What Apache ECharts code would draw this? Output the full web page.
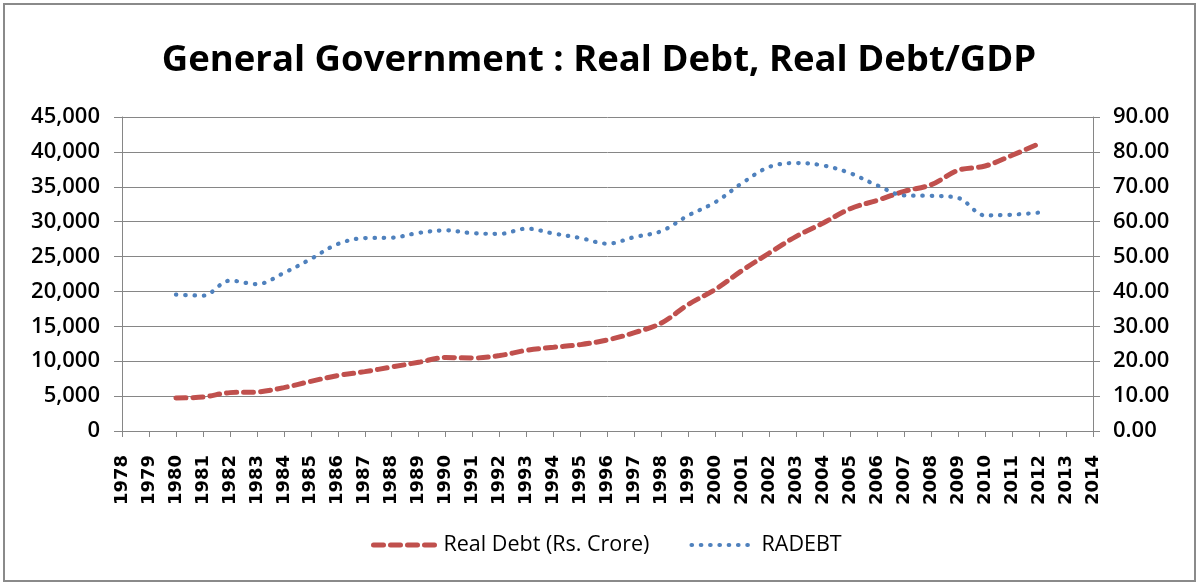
<!DOCTYPE html>
<html>
<head>
<meta charset="utf-8">
<script src="https://cdn.jsdelivr.net/npm/echarts@6/dist/echarts.min.js"></script>
<style>
  html, body { margin: 0; padding: 0; background: #fff; }
  #chart { width: 1198px; height: 586px; }
</style>
</head>
<body>
<div id="chart"></div>
<script>
const years = ['1978','1979','1980','1981','1982','1983','1984','1985','1986','1987','1988','1989','1990','1991','1992','1993','1994','1995','1996','1997','1998','1999','2000','2001','2002','2003','2004','2005','2006','2007','2008','2009','2010','2011','2012','2013','2014'];

const realDebt = [null, null,
  4730, 4870, 5500, 5590, 6220, 7120, 7940, 8510, 9170, 9850,
  10520, 10460, 10810, 11570, 12000, 12380, 13050, 14100, 15480, 18150,
  20300, 23030, 25510, 27900, 29810, 31860, 33060, 34350, 35300, 37360,
  37980, 39510, 41180,
  null, null];

const radebt = [null, null,
  39.1, 38.8, 43.1, 42.1, 45.3, 49.3, 53.6, 55.3, 55.4, 56.8,
  57.5, 56.7, 56.5, 58.0, 56.6, 55.3, 53.7, 55.6, 57.3, 61.8,
  65.6, 71.1, 75.7, 76.8, 76.1, 73.9, 70.4, 67.5, 67.4, 66.8,
  61.8, 62.0, 62.6,
  null, null];

const leftTicks = { min: 0, max: 45000, interval: 5000 };
const rightTicks = { min: 0, max: 90, interval: 10 };

const chart = echarts.init(document.getElementById('chart'), null, { renderer: 'canvas' });
const gray = '#868686';
const labelFont = 'Open Sans';

chart.setOption({
  animation: false,
  backgroundColor: '#ffffff',
  graphic: [{
    type: 'rect',
    shape: { x: 4, y: 4, width: 1191, height: 577 },
    style: { fill: 'none', stroke: '#8a8a8a', lineWidth: 2 },
    silent: true
  }],
  title: {
    text: 'General Government : Real Debt, Real Debt/GDP',
    left: 'center',
    top: 37,
    textStyle: { fontFamily: labelFont, fontWeight: 'bold', fontSize: 36.5, color: '#000' }
  },
  legend: {
    top: 529,
    left: 366,
    itemWidth: 65,
    itemHeight: 14,
    itemGap: 40,
    itemStyle: { opacity: 0 },
    textStyle: { fontFamily: labelFont, fontSize: 21.5, fontWeight: 500, color: '#000' },
    data: [
      { name: 'Real Debt (Rs. Crore)', lineStyle: { width: 5 } },
      { name: 'RADEBT', lineStyle: { width: 4.2 } }
    ]
  },
  grid: { left: 122, right: 105, top: 117, bottom: 155, containLabel: false },
  xAxis: {
    type: 'category',
    data: years,
    boundaryGap: false,
    axisLine: { lineStyle: { color: gray, width: 1 } },
    axisTick: { show: true, length: 6, interval: 0, lineStyle: { color: gray } },
    axisLabel: {
      interval: 0, rotate: 90, margin: 24,
      fontFamily: 'DejaVu Sans', fontWeight: 'bold', fontSize: 18, color: '#000'
    },
    splitLine: { show: false }
  },
  yAxis: [{
    type: 'value',
    min: leftTicks.min, max: leftTicks.max, interval: leftTicks.interval,
    position: 'left',
    axisLine: { show: true, lineStyle: { color: gray } },
    axisTick: { show: true, length: 8, lineStyle: { color: gray } },
    axisLabel: {
      margin: 22, fontFamily: labelFont, fontSize: 22, fontWeight: 600, color: '#000',
      formatter: v => v.toLocaleString('en-US')
    },
    splitLine: { show: true, lineStyle: { color: gray, width: 1 } }
  }, {
    type: 'value',
    min: rightTicks.min, max: rightTicks.max, interval: rightTicks.interval,
    position: 'right',
    axisLine: { show: true, lineStyle: { color: gray } },
    axisTick: { show: true, length: 7, lineStyle: { color: gray } },
    axisLabel: {
      margin: 20, fontFamily: labelFont, fontSize: 22, fontWeight: 600, color: '#000',
      formatter: v => v.toFixed(2)
    },
    splitLine: { show: false }
  }],
  series: [{
    name: 'Real Debt (Rs. Crore)',
    type: 'line',
    yAxisIndex: 0,
    data: realDebt,
    smooth: 0.35,
    symbol: 'none',
    connectNulls: false,
    color: '#C0504D',
    lineStyle: { color: '#C0504D', width: 5, type: [10, 7], cap: 'round' }
  }, {
    name: 'RADEBT',
    type: 'line',
    yAxisIndex: 1,
    data: radebt,
    smooth: 0.35,
    symbol: 'none',
    color: '#4F81BD',
    lineStyle: { color: '#4F81BD', width: 4.2, type: [0.5, 8.8], cap: 'round' }
  }]
});
</script>
</body>
</html>
